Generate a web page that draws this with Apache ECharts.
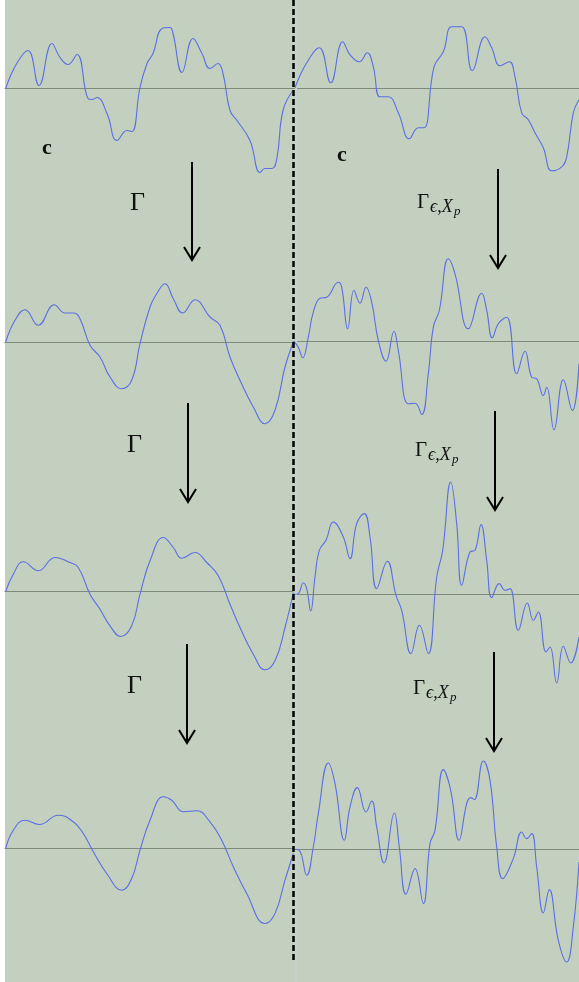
<!DOCTYPE html>
<html>
<head>
<meta charset="utf-8">
<script src="https://cdn.jsdelivr.net/npm/echarts@6/dist/echarts.min.js"></script>
<style>
  html, body { margin: 0; padding: 0; background: #fff; }
  #chart { width: 579px; height: 982px; }
</style>
</head>
<body>
<div id="chart"></div>
<script>
// Signals: horizontal position t (left panel covers one period, 0..288),
// value = displacement from the baseline.
const row1Left = [[0.7,0],[11.7,25],[23,38],[34,3],[47,45],[55,31],[63,24],[72,34],[83,-10],[87,-11],[92,-9],[102,-25],[112,-52],[122,-42],[127,-43],[135,1],[142,25],[148,35],[157,60],[165,61],[168,55],[177,16],[188,50],[197,35],[205,20],[213,25],[218,15],[225,-22],[232,-32],[245,-52],[255,-84],[260,-80],[267,-80],[272,-69],[278,-22],[288,-2]];
const row1Right = [[290,0],[301.7,25],[314.3,40],[325.7,5],[337.7,46],[345,33],[354.3,26],[362.3,35],[368.3,21],[375,-9],[383.3,-9],[393.3,-25],[404.3,-51],[413.3,-40],[419,-40],[429,21],[438.3,36],[446.7,61],[456.7,61],[467.3,17],[480,51],[486.7,40],[495,22],[504.3,26],[510,11],[516.7,-25],[523.3,-32],[530,-45],[538.3,-60],[546.7,-83],[556.7,-79],[561.7,-69],[568.3,-25],[574,-12]];
const row2Left = [[0.7,0],[10,21.7],[20,32.3],[33.3,16.7],[49.3,37.3],[60,29],[69,29],[75,23.3],[85,-3.3],[95,-15],[105,-35],[116.7,-46.7],[126.7,-38.3],[135,-1.7],[145,35],[151.7,48.3],[160,58.3],[168.3,43.3],[177.7,29],[190,42.3],[205,25],[215,16.7],[225,-15],[235,-38.3],[248.3,-65],[260,-81.7],[270,-68.3],[280,-25],[288.3,0]];
const row2Right = [[289,0],[293.3,-5.7],[297.7,-16.3],[303.3,4.3],[308.3,29.3],[315,43.3],[321.7,44.3],[333.3,59.3],[336.7,54.3],[342.7,12.7],[349,51],[355,38.3],[361,54.3],[366.7,39.3],[373.3,1],[381,-19.7],[389,10.3],[393.3,-9],[403.3,-62.3],[410,-61.7],[416.7,-73],[423.3,-32.3],[428.3,14.3],[434.3,31],[443.3,82.7],[450,67.7],[463.3,12.7],[476.7,48.3],[481.7,31],[487.3,3.7],[493.3,17.7],[501.7,24.3],[511.7,-32.3],[520,-9.7],[526.7,-35.7],[531.7,-37.3],[538.3,-54],[541.7,-45.7],[549,-88.3],[558.3,-38.3],[567.3,-69],[574,-22.3]];
const row3Left = [[0.7,0],[8.3,17.3],[18.3,29.7],[33.3,20.7],[50,34],[65,29],[73.3,24],[85,-2.7],[95,-17.7],[105,-34.3],[115.7,-45],[126.7,-34.3],[135,-2.7],[145,30.7],[158.3,54],[168.3,44],[176.7,33.3],[190,39],[201.7,29],[213.3,15.7],[225,-12.7],[235,-36],[248.3,-62.7],[260,-78.3],[270,-69.3],[280,-36],[288.3,-1]];
const row3Right = [[289,0],[293.3,0.7],[298.3,11.3],[301.7,5.7],[305.7,-16.7],[310,17.3],[314.3,44],[321,54],[328.3,72.3],[338.3,57.3],[345,35.7],[351.7,70.7],[359.3,80.7],[365,57.3],[371.7,5.7],[382.3,33],[391,-1],[396.7,-16],[406,-59.3],[414.3,-31],[423.3,-59.3],[431.7,17.3],[437.7,44],[445.7,112.3],[451.7,70.7],[456.7,9],[465,42.3],[470,44],[476,69.7],[481.7,34],[486.7,-3.3],[494.3,10.7],[500,4],[505,5.7],[513.3,-36],[522.3,-8.7],[528.3,-26],[533.3,-17.7],[541,-57.7],[545,-52.7],[551.7,-88.7],[558.3,-52],[565.7,-68.7],[574,-42.7]];
const row4Left = [[0.7,0],[8.3,18.3],[20,28.3],[34.3,24],[53.3,33.3],[68.3,26.7],[78.3,15],[88.3,-3.3],[101.7,-25],[116.7,-41.7],[126.7,-30],[135,-1.7],[145,28.3],[158.3,51.7],[166.7,48.3],[178.3,36.7],[191.7,37.7],[205,26.7],[216.7,8.3],[228.3,-18.3],[241.7,-45],[260,-75],[270,-65],[280,-31.7],[288.3,-5]];
const row4Right = [[289,0],[294.3,-1],[301.7,-26],[308.3,2.3],[313.3,35.7],[323.3,86.3],[330,65.7],[339.3,9],[345,42.3],[352.3,61.7],[361,37.3],[366.7,48.3],[371.7,22.3],[379,-13.7],[389.3,36.3],[394.3,2.3],[401,-45],[410,-19.3],[418.3,-54.3],[425,5.7],[430,19],[438.3,79.7],[445.7,59],[454,9],[461.7,45.7],[465.7,51.7],[469.3,49.7],[478.3,88.3],[485,69],[491.7,2.3],[497.7,-29.3],[508.3,-9.3],[516.7,17.3],[521.7,10.7],[526.7,15.7],[531.7,-17.7],[538.3,-63.7],[544.3,-40.3],[553.3,-91],[561.7,-112.7],[568.3,-77.7],[574,-12.7]];

const leftSignals = [row1Left, row2Left, row3Left, row4Left];
const rightSignals = [row1Right, row2Right, row3Right, row4Right];

// Labels
const stateLabel = 'c';
const leftMap = 'Γ';
const rightMapMain = 'Γ';
const rightMapSub = 'ϵ,X';
const rightMapSubSub = 'p';

// Layout
const leftBaselines = [88.5, 342, 591.5, 848.5];
const rightBaselines = [87.8, 341.5, 594.3, 849.3];
const rowYMax = [80, 120, 120, 120];
const Y_MIN = -130;
const LINE_COLOR = '#5a6fe4';
const BASE_COLOR = '#7d8a7c';
const BG = '#c3d0bf';

const grids = [], xAxes = [], yAxes = [], series = [];
function addPanel(data, baseline, yMax, left, width, xmin, xmax) {
  const i = grids.length;
  grids.push({ left: left, width: width, top: baseline - yMax, height: yMax - Y_MIN, containLabel: false });
  xAxes.push({
    gridIndex: i, type: 'value', min: xmin, max: xmax,
    axisLine: { show: true, onZero: true, lineStyle: { color: BASE_COLOR, width: 1 } },
    axisTick: { show: false }, axisLabel: { show: false }, splitLine: { show: false }
  });
  yAxes.push({ gridIndex: i, type: 'value', min: Y_MIN, max: yMax, show: false, splitLine: { show: false } });
  series.push({
    type: 'line', xAxisIndex: i, yAxisIndex: i, data: data,
    showSymbol: false, smooth: 0.45, z: 3,
    lineStyle: { color: LINE_COLOR, width: 1.1 }
  });
}
for (let r = 0; r < 4; r++) {
  addPanel(leftSignals[r], leftBaselines[r], rowYMax[r], 5, 288, 0, 288);
  addPanel(rightSignals[r], rightBaselines[r], rowYMax[r], 293, 286, 288, 574);
}

const SERIF = '"Liberation Serif", "DejaVu Serif", serif';
function txt(s, x, y, size, opts) {
  opts = opts || {};
  return {
    type: 'text', x: x, y: y, z: 60, silent: true,
    style: {
      text: s, fill: '#111',
      font: (opts.style || 'normal') + ' ' + (opts.weight || 'normal') + ' ' + size + 'px ' + SERIF,
      textAlign: 'left', align: 'left', textVerticalAlign: 'top', verticalAlign: 'top'
    }
  };
}
function arrow(x, y1, y2) {
  return [
    { type: 'line', z: 60, silent: true, shape: { x1: x, y1: y1, x2: x, y2: y2 - 1 },
      style: { stroke: '#000', lineWidth: 2 } },
    { type: 'polyline', z: 60, silent: true,
      shape: { points: [[x - 8, y2 - 13], [x, y2], [x + 8, y2 - 13]] },
      style: { stroke: '#000', lineWidth: 2, fill: null } }
  ];
}
function mapLabel(x, y) {
  return [
    txt(rightMapMain, x, y, 21),
    txt(rightMapSub, x + 13, y + 6, 18, { style: 'italic' }),
    txt(rightMapSubSub, x + 37, y + 13, 13, { style: 'italic' })
  ];
}

const graphic = [
  { type: 'rect', z: 0, silent: true, shape: { x: 0, y: 0, width: 5, height: 982 }, style: { fill: '#ffffff' } },
  { type: 'rect', z: 1, silent: true, shape: { x: 295, y: 0, width: 2, height: 982 }, style: { fill: '#c8d1d2' } },
  { type: 'line', z: 50, silent: true, shape: { x1: 293.5, y1: 0, x2: 293.5, y2: 961 },
    style: { stroke: '#000', lineWidth: 2.5, lineDash: [6, 3] } },
  txt(stateLabel, 42, 137, 22, { weight: 'bold' }),
  txt(stateLabel, 337, 144, 22, { weight: 'bold' }),
  txt(leftMap, 130, 190, 26),
  txt(leftMap, 127, 432, 26),
  txt(leftMap, 127, 673, 26),
  ...mapLabel(417, 192),
  ...mapLabel(415, 440),
  ...mapLabel(413, 678),
  ...arrow(192, 162, 260),
  ...arrow(498, 169, 268),
  ...arrow(188, 403, 502),
  ...arrow(495, 411, 510),
  ...arrow(187, 644, 743),
  ...arrow(494, 652, 751)
];

const chart = echarts.init(document.getElementById('chart'), null, { renderer: 'canvas' });
chart.setOption({
  animation: false,
  backgroundColor: BG,
  grid: grids, xAxis: xAxes, yAxis: yAxes, series: series,
  graphic: graphic
});
</script>
</body>
</html>
